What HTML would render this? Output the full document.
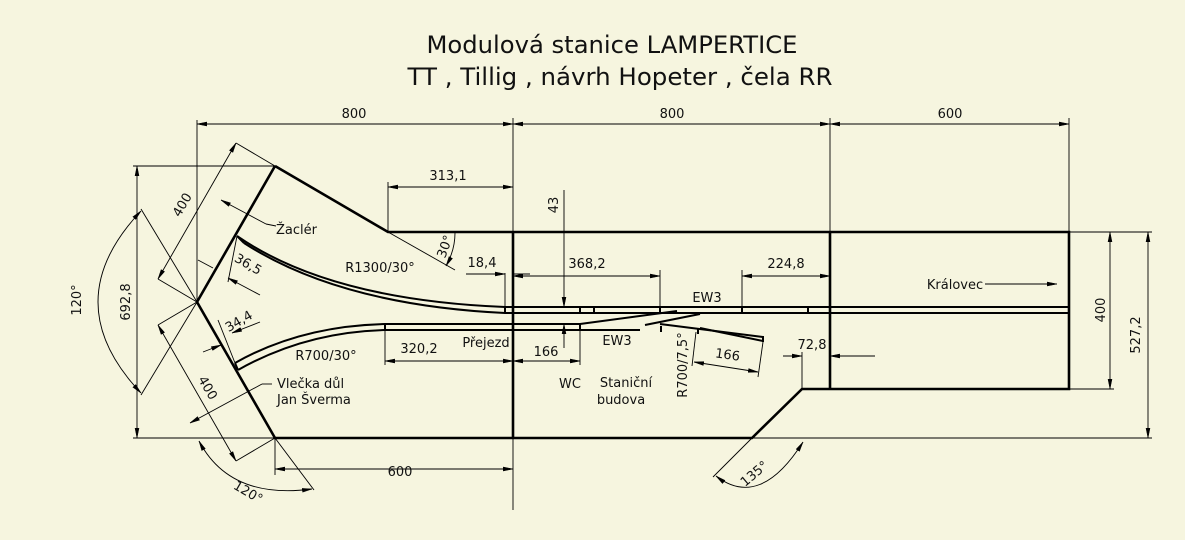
<!DOCTYPE html>
<html><head><meta charset="utf-8"><style>
html,body{margin:0;padding:0;background:#f6f5df;}
svg{display:block}
text{font-family:"DejaVu Sans","Liberation Sans",sans-serif;fill:#111;font-size:13px}
.t{stroke:#000;stroke-width:2.6;fill:none}
.m{stroke:#000;stroke-width:2;fill:none}
.d{stroke:#000;stroke-width:0.9;fill:none}
</style></head><body>
<svg width="1185" height="540" viewBox="0 0 1185 540" xmlns="http://www.w3.org/2000/svg">
<defs><marker id="a" viewBox="0 0 10 6" refX="10" refY="3" markerWidth="10" markerHeight="6" orient="auto-start-reverse" markerUnits="userSpaceOnUse"><path d="M0,1 L10,3 L0,5" fill="#000" stroke="#000" stroke-width="0.5"/></marker></defs>
<rect width="1185" height="540" fill="#f6f5df"/>
<text x="612" y="53" text-anchor="middle" style="font-size:24px" textLength="371" lengthAdjust="spacingAndGlyphs">Modulová stanice LAMPERTICE</text>
<text x="620" y="85" text-anchor="middle" style="font-size:24px" textLength="425" lengthAdjust="spacingAndGlyphs">TT , Tillig , návrh Hopeter , čela RR</text>

<path class="t" d="M275,166 L197,302 L275,438 L752,438 L802,389 L1069,389 L1069,232 L388,232 L275,166"/>
<line class="t" x1="513" y1="232" x2="513" y2="438"/>
<line class="t" x1="830" y1="232" x2="830" y2="389"/>
<path class="m" d="M237,236 Q330,300 505,307 L1069,307"/>
<path class="m" d="M244,243 Q340,305 505,313 L1069,313"/>
<line class="m" x1="505" y1="307" x2="505" y2="313"/>
<line class="m" x1="237" y1="236" x2="244" y2="243"/>
<path class="m" d="M235,363 Q300,326 385,324 L580,324"/>
<path class="m" d="M238,370 Q305,332 385,330 L640,330"/>
<line class="m" x1="235" y1="363" x2="238" y2="370"/>
<line class="m" x1="580" y1="324" x2="677" y2="311"/>
<line class="m" x1="645" y1="325" x2="700" y2="314"/>
<path class="m" d="M660,324 L763,337"/>
<path class="m" d="M700,328 L763,341"/>
<line class="m" x1="763" y1="336" x2="763" y2="342"/>
<line class="m" x1="580" y1="307" x2="580" y2="313"/>
<line class="m" x1="594" y1="307" x2="594" y2="313"/>
<line class="m" x1="660" y1="307" x2="660" y2="313"/>
<line class="m" x1="742" y1="307" x2="742" y2="313"/>
<line class="m" x1="808" y1="307" x2="808" y2="313"/>
<line class="m" x1="580" y1="324" x2="580" y2="330"/>
<line class="m" x1="385" y1="324" x2="385" y2="330"/>
<line class="m" x1="661" y1="326" x2="661" y2="332"/>
<line class="m" x1="698" y1="328" x2="698" y2="334"/>

<g class="d">
<line x1="197" y1="120" x2="197" y2="302"/>
<line x1="513" y1="118" x2="513" y2="510"/>
<line x1="830" y1="118" x2="830" y2="232"/>
<line x1="1069" y1="118" x2="1069" y2="232"/>
<line x1="197" y1="124" x2="513" y2="124" marker-start="url(#a)" marker-end="url(#a)"/>
<line x1="513" y1="124" x2="830" y2="124" marker-start="url(#a)" marker-end="url(#a)"/>
<line x1="830" y1="124" x2="1069" y2="124" marker-start="url(#a)" marker-end="url(#a)"/>
<line x1="133" y1="166" x2="275" y2="166"/>
<line x1="133" y1="438" x2="275" y2="438"/>
<line x1="137" y1="166" x2="137" y2="438" marker-start="url(#a)" marker-end="url(#a)"/>
<line x1="1069" y1="232" x2="1152" y2="232"/>
<line x1="1069" y1="389" x2="1114" y2="389"/>
<line x1="752" y1="438" x2="1152" y2="438"/>
<line x1="1110" y1="232" x2="1110" y2="389" marker-start="url(#a)" marker-end="url(#a)"/>
<line x1="1148" y1="232" x2="1148" y2="438" marker-start="url(#a)" marker-end="url(#a)"/>
<line x1="275" y1="438" x2="275" y2="475"/>
<line x1="275" y1="469" x2="513" y2="469" marker-start="url(#a)" marker-end="url(#a)"/>
<line x1="388" y1="182" x2="388" y2="232"/>
<line x1="388" y1="187" x2="513" y2="187" marker-start="url(#a)" marker-end="url(#a)"/>
<line x1="388" y1="232" x2="455" y2="270"/>
<path d="M455,233 Q455,250 446,266" marker-end="url(#a)"/>
<line x1="505" y1="273" x2="505" y2="307"/>
<line x1="466" y1="274" x2="505" y2="274" marker-end="url(#a)"/>
<line x1="513" y1="274" x2="530" y2="274"/>
<line x1="660" y1="270" x2="660" y2="307"/>
<line x1="742" y1="270" x2="742" y2="307"/>
<line x1="513" y1="276" x2="660" y2="276" marker-start="url(#a)" marker-end="url(#a)"/>
<line x1="742" y1="276" x2="830" y2="276" marker-start="url(#a)" marker-end="url(#a)"/>
<line x1="564" y1="190" x2="564" y2="307" marker-end="url(#a)"/>
<line x1="564" y1="348" x2="564" y2="324" marker-end="url(#a)"/>
<line x1="385" y1="330" x2="385" y2="365"/>
<line x1="580" y1="330" x2="580" y2="365"/>
<line x1="385" y1="361" x2="513" y2="361" marker-start="url(#a)" marker-end="url(#a)"/>
<line x1="513" y1="361" x2="580" y2="361" marker-start="url(#a)" marker-end="url(#a)"/>
<line x1="696" y1="332" x2="692" y2="366"/>
<line x1="763" y1="342" x2="758" y2="377"/>
<line x1="694" y1="362" x2="758" y2="372" marker-start="url(#a)" marker-end="url(#a)"/>
<line x1="802" y1="352" x2="802" y2="389"/>
<line x1="783" y1="356" x2="802" y2="356" marker-end="url(#a)"/>
<line x1="875" y1="356" x2="830" y2="356" marker-end="url(#a)"/>
<line x1="752" y1="438" x2="713" y2="477"/>
<path d="M716,476 Q760,510 803,442" marker-start="url(#a)" marker-end="url(#a)"/>
<line x1="197" y1="302" x2="141" y2="209"/>
<line x1="197" y1="302" x2="141" y2="395"/>
<path d="M141,211 Q55,302 141,393" marker-start="url(#a)" marker-end="url(#a)"/>
<line x1="275" y1="438" x2="314" y2="490"/>
<path d="M199,441 Q230,500 312,489" marker-start="url(#a)" marker-end="url(#a)"/>
<line x1="275" y1="166" x2="236" y2="143"/>
<line x1="197" y1="302" x2="158" y2="279"/>
<line x1="236" y1="143" x2="158" y2="279" marker-start="url(#a)" marker-end="url(#a)"/>
<line x1="197" y1="302" x2="158" y2="325"/>
<line x1="275" y1="438" x2="236" y2="461"/>
<line x1="158" y1="325" x2="236" y2="461" marker-start="url(#a)" marker-end="url(#a)"/>
<line x1="237" y1="236" x2="228" y2="282"/>
<line x1="198" y1="260" x2="213" y2="268"/>
<line x1="228" y1="278" x2="260" y2="295" marker-start="url(#a)"/>
<line x1="235" y1="363" x2="218" y2="320"/>
<line x1="203" y1="352" x2="221" y2="345" marker-end="url(#a)"/>
<line x1="260" y1="322" x2="232" y2="333" marker-end="url(#a)"/>
<line x1="266" y1="224" x2="221" y2="200" marker-end="url(#a)"/>
<line x1="266" y1="224" x2="276" y2="226"/>
<line x1="272" y1="384" x2="262" y2="384"/>
<line x1="262" y1="384" x2="190" y2="423" marker-end="url(#a)"/>
<line x1="985" y1="284" x2="1057" y2="284" marker-end="url(#a)"/>
</g>

<text x="354" y="118" text-anchor="middle">800</text>
<text x="672" y="118" text-anchor="middle">800</text>
<text x="950" y="118" text-anchor="middle">600</text>
<text x="448" y="180" text-anchor="middle">313,1</text>
<text x="482" y="267" text-anchor="middle">18,4</text>
<text x="587" y="268" text-anchor="middle">368,2</text>
<text x="786" y="268" text-anchor="middle">224,8</text>
<text x="707" y="302" text-anchor="middle">EW3</text>
<text x="617" y="345" text-anchor="middle">EW3</text>
<text x="955" y="289" text-anchor="middle">Královec</text>
<text x="380" y="272" text-anchor="middle">R1300/30°</text>
<text x="326" y="360" text-anchor="middle">R700/30°</text>
<text x="419" y="353" text-anchor="middle">320,2</text>
<text x="486" y="347" text-anchor="middle">Přejezd</text>
<text x="546" y="356" text-anchor="middle">166</text>
<text x="570" y="388" text-anchor="middle">WC</text>
<text x="626" y="387" text-anchor="middle">Staniční</text>
<text x="621" y="404" text-anchor="middle">budova</text>
<text x="812" y="349" text-anchor="middle">72,8</text>
<text x="400" y="476" text-anchor="middle">600</text>
<text x="276" y="234">Žaclér</text>
<text x="277" y="388">Vlečka důl</text>
<text x="277" y="404">Jan Šverma</text>
<text transform="translate(558,205) rotate(-90)" text-anchor="middle">43</text>
<text transform="translate(1105,310) rotate(-90)" text-anchor="middle">400</text>
<text transform="translate(1140,335) rotate(-90)" text-anchor="middle">527,2</text>
<text transform="translate(130,302) rotate(-90)" text-anchor="middle">692,8</text>
<text transform="translate(81,300) rotate(-90)" text-anchor="middle">120°</text>
<text transform="translate(186,207) rotate(-60)" text-anchor="middle">400</text>
<text transform="translate(204,390) rotate(60)" text-anchor="middle">400</text>
<text transform="translate(246,268) rotate(30)" text-anchor="middle">36,5</text>
<text transform="translate(241,325) rotate(-30)" text-anchor="middle">34,4</text>
<text transform="translate(449,248) rotate(-70)" text-anchor="middle">30°</text>
<text transform="translate(687,365) rotate(-90)" text-anchor="middle">R700/7,5°</text>
<text transform="translate(727,359) rotate(8)" text-anchor="middle">166</text>
<text transform="translate(246,496) rotate(30)" text-anchor="middle">120°</text>
<text transform="translate(757,477) rotate(-40)" text-anchor="middle">135°</text>
</svg>
</body></html>
